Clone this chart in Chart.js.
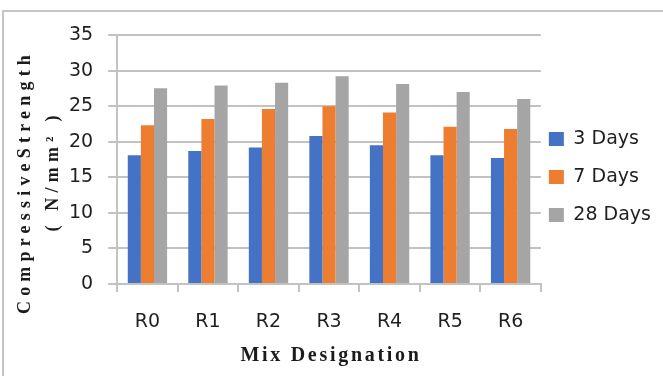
<!DOCTYPE html>
<html>
<head>
<meta charset="utf-8">
<script src="https://cdn.jsdelivr.net/npm/chart.js@4/dist/chart.umd.min.js"></script>
<style>
  html, body { margin: 0; padding: 0; background: #ffffff; }
  #wrap { width: 663px; height: 376px; position: relative; }
</style>
</head>
<body>
<div id="wrap"><canvas id="chart" width="663" height="376"></canvas></div>
<script>
// Mix designations and compressive strength (N/mm²) at each curing age
const mixes = ['R0', 'R1', 'R2', 'R3', 'R4', 'R5', 'R6'];
const days3 = [18.1, 18.7, 19.2, 20.8, 19.5, 18.1, 17.7];
const days7 = [22.3, 23.2, 24.6, 25.0, 24.1, 22.1, 21.8];
const days28 = [27.5, 27.9, 28.3, 29.2, 28.1, 27.0, 26.0];
const seriesNames = ['3 Days', '7 Days', '28 Days'];
const seriesColors = ['#4472C4', '#ED7D31', '#A5A5A5'];
const yMin = 0, yMax = 35, yStep = 5;

const yTitleLines = ['CompressiveStrength', '( N/mm\u00B2 )'];
const xTitle = 'Mix Designation';

const tickFont = { family: '"DejaVu Sans", "Liberation Sans", sans-serif', size: 19 };
const xTickFont = { family: tickFont.family, size: 19, lineHeight: 1 };
const textColor = '#1f1f1f';
const gridColor = '#c2c2c2';

// Outer frame plus the bold, letter-spaced axis titles
const frameAndTitles = {
  id: 'frameAndTitles',
  beforeDraw(chart) {
    const ctx = chart.ctx;
    ctx.save();
    ctx.strokeStyle = '#c6c6c6';
    ctx.lineWidth = 2;
    ctx.beginPath();
    ctx.moveTo(3, 376);
    ctx.lineTo(3, 11);
    ctx.lineTo(663, 11);
    ctx.stroke();
    ctx.restore();
  },
  afterDraw(chart) {
    const ctx = chart.ctx;
    const area = chart.chartArea;
    ctx.save();
    ctx.fillStyle = '#1b1b1b';
    ctx.textAlign = 'center';
    ctx.textBaseline = 'middle';

    // y-axis title, two rotated lines
    ctx.font = 'bold 18px "Liberation Serif", "Times New Roman", serif';
    ctx.letterSpacing = '5.2px';
    const yLinePos = [
      { x: area.left - 92, y: area.top + 147 },
      { x: area.left - 64, y: area.top + 136 }
    ];
    yTitleLines.forEach((line, i) => {
      ctx.save();
      ctx.translate(yLinePos[i].x, yLinePos[i].y);
      ctx.rotate(-Math.PI / 2);
      ctx.fillText(line, 0, 0);
      ctx.restore();
    });

    // x-axis title
    ctx.font = 'bold 20px "Liberation Serif", "Times New Roman", serif';
    ctx.letterSpacing = '2.7px';
    ctx.fillText(xTitle, (area.left + area.right) / 2 + 2, area.bottom + 72);
    ctx.restore();
  }
};

new Chart(document.getElementById('chart'), {
  type: 'bar',
  data: {
    labels: mixes,
    datasets: [
      { label: seriesNames[0], data: days3, backgroundColor: seriesColors[0] },
      { label: seriesNames[1], data: days7, backgroundColor: seriesColors[1] },
      { label: seriesNames[2], data: days28, backgroundColor: seriesColors[2] }
    ]
  },
  options: {
    responsive: false,
    animation: false,
    devicePixelRatio: 1,
    layout: { padding: { left: 54, top: 35, right: 2, bottom: 46 } },
    datasets: { bar: { categoryPercentage: 0.65, barPercentage: 1.0 } },
    plugins: {
      tooltip: { enabled: false },
      legend: {
        position: 'right',
        align: 'center',
        labels: {
          boxWidth: 15,
          boxHeight: 14,
          padding: 8,
          color: textColor,
          font: { family: tickFont.family, size: 19, lineHeight: 30 / 19 },
          generateLabels(chart) {
            const items = Chart.defaults.plugins.legend.labels.generateLabels(chart);
            items.forEach(item => { item.text = [item.text]; item.lineWidth = 0; });
            return items;
          }
        }
      }
    },
    scales: {
      x: {
        offset: true,
        grid: { drawOnChartArea: false, drawTicks: true, tickLength: 8, color: gridColor, lineWidth: 2 },
        border: { color: gridColor, width: 2 },
        ticks: { font: xTickFont, color: textColor, padding: 20.5 },
        afterFit(scale) { scale.height = 46; }
      },
      y: {
        min: yMin,
        max: yMax,
        ticks: { stepSize: yStep, font: tickFont, color: textColor, padding: 15 },
        grid: { color: gridColor, lineWidth: 2, tickLength: 9 },
        border: { color: gridColor, width: 2 }
      }
    }
  },
  plugins: [frameAndTitles]
});
</script>
</body>
</html>
